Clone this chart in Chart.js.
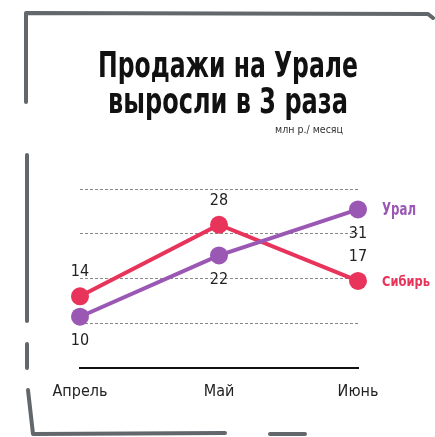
<!DOCTYPE html>
<html>
<head>
<meta charset="utf-8">
<script src="https://cdn.jsdelivr.net/npm/chart.js@4.4.1/dist/chart.umd.min.js"></script>
<style>
  html, body { margin: 0; padding: 0; background: #fff; overflow: hidden; }
  canvas { display: block; }
</style>
</head>
<body>
<canvas id="myChart" width="435" height="437"></canvas>
<script>
// данные
const months = ['Апрель', 'Май', 'Июнь'];
const uralValues = [10, 22, 31];
const sibirValues = [14, 28, 17];
const seriesNames = ['Урал', 'Сибирь'];
const gridTicks = [0, 8.75, 17.5, 26.25, 35];

const purple = '#9b57b4';
const red = '#e8335b';
const frameColor = '#62676b';
const condensed = '"DejaVu Sans Condensed", "Liberation Sans Narrow", sans-serif';

// текст, сжатый по ширине
function squeezeText(ctx, text, x, y, width) {
    const w = ctx.measureText(text).width;
    ctx.save();
    ctx.translate(x, y);
    ctx.scale(Math.min(1, width / w), 1);
    ctx.fillText(text, 0, 0);
    ctx.restore();
}

// рамка и заголовок
const framePlugin = {
    id: 'frame',
    beforeDraw(chart) {
        const ctx = chart.ctx;
        ctx.save();
        ctx.strokeStyle = frameColor;
        ctx.lineWidth = 4;
        ctx.lineCap = 'round';
        ctx.lineJoin = 'round';
        const paths = [
            [[26, 102], [26, 13], [428, 14], [433, 18]],
            [[27, 155], [27, 321]],
            [[27, 344], [27, 368]],
            [[28, 390], [33, 434], [225, 433]],
            [[270, 434], [305, 434]]
        ];
        paths.forEach(p => {
            ctx.beginPath();
            ctx.moveTo(p[0][0], p[0][1]);
            for (let i = 1; i < p.length; i++) ctx.lineTo(p[i][0], p[i][1]);
            ctx.stroke();
        });

        ctx.fillStyle = '#111';
        ctx.textAlign = 'center';
        ctx.textBaseline = 'alphabetic';
        ctx.font = 'bold 35px ' + condensed;
        squeezeText(ctx, 'Продажи на Урале', 228, 77, 260);
        squeezeText(ctx, 'выросли в 3 раза', 228, 113, 240);
        ctx.fillStyle = '#333';
        ctx.textBaseline = 'middle';
        ctx.font = '11px ' + condensed;
        squeezeText(ctx, 'млн р./ месяц', 309, 130, 68);
        ctx.restore();
    }
};

// подписи значений и названия рядов
const labelPlugin = {
    id: 'labels',
    afterDatasetsDraw(chart) {
        const ctx = chart.ctx;
        ctx.save();
        ctx.textBaseline = 'middle';
        chart.data.datasets.forEach((ds, i) => {
            const meta = chart.getDatasetMeta(i);
            const dy = i === 0 ? 24 : -24;
            ctx.textAlign = 'center';
            ctx.fillStyle = '#222';
            ctx.font = '16px ' + condensed;
            meta.data.forEach((pt, j) => {
                ctx.fillText(String(ds.data[j]), pt.x, pt.y + dy);
            });
            const last = meta.data[meta.data.length - 1];
            ctx.textAlign = 'left';
            ctx.fillStyle = ds.borderColor;
            ctx.font = i === 0 ? 'bold 18px ' + condensed : 'bold 14px ' + condensed;
            squeezeText(ctx, seriesNames[i], last.x + 24, last.y + 1, i === 0 ? 34 : 48);
        });
        ctx.restore();
    }
};

const ctx = document.getElementById('myChart').getContext('2d');
const myChart = new Chart(ctx, {
    type: 'line',
    data: {
        labels: months,
        datasets: [{
            label: seriesNames[0],
            data: uralValues,
            borderColor: purple,
            backgroundColor: purple,
            borderWidth: 4,
            pointRadius: 9,
            pointHoverRadius: 9,
            pointBorderWidth: 0,
            tension: 0
        }, {
            label: seriesNames[1],
            data: sibirValues,
            borderColor: red,
            backgroundColor: red,
            borderWidth: 4,
            pointRadius: 9,
            pointHoverRadius: 9,
            pointBorderWidth: 0,
            tension: 0
        }]
    },
    options: {
        responsive: false,
        animation: false,
        clip: false,
        layout: { padding: { left: 80, right: 77, top: 189, bottom: 22 } },
        scales: {
            x: {
                offset: false,
                grid: { display: false, drawTicks: false },
                border: { display: true, color: '#111', width: 2 },
                ticks: { color: '#222', padding: 14, font: { family: condensed, size: 16 } }
            },
            y: {
                min: 0,
                max: 35,
                afterBuildTicks(axis) { axis.ticks = gridTicks.map(v => ({ value: v })); },
                grid: { color: '#888', lineWidth: 1, drawTicks: false },
                border: { display: false, dash: [3, 2] },
                ticks: { display: false }
            }
        },
        plugins: {
            legend: { display: false },
            tooltip: { enabled: false }
        }
    },
    plugins: [framePlugin, labelPlugin]
});
</script>
</body>
</html>
